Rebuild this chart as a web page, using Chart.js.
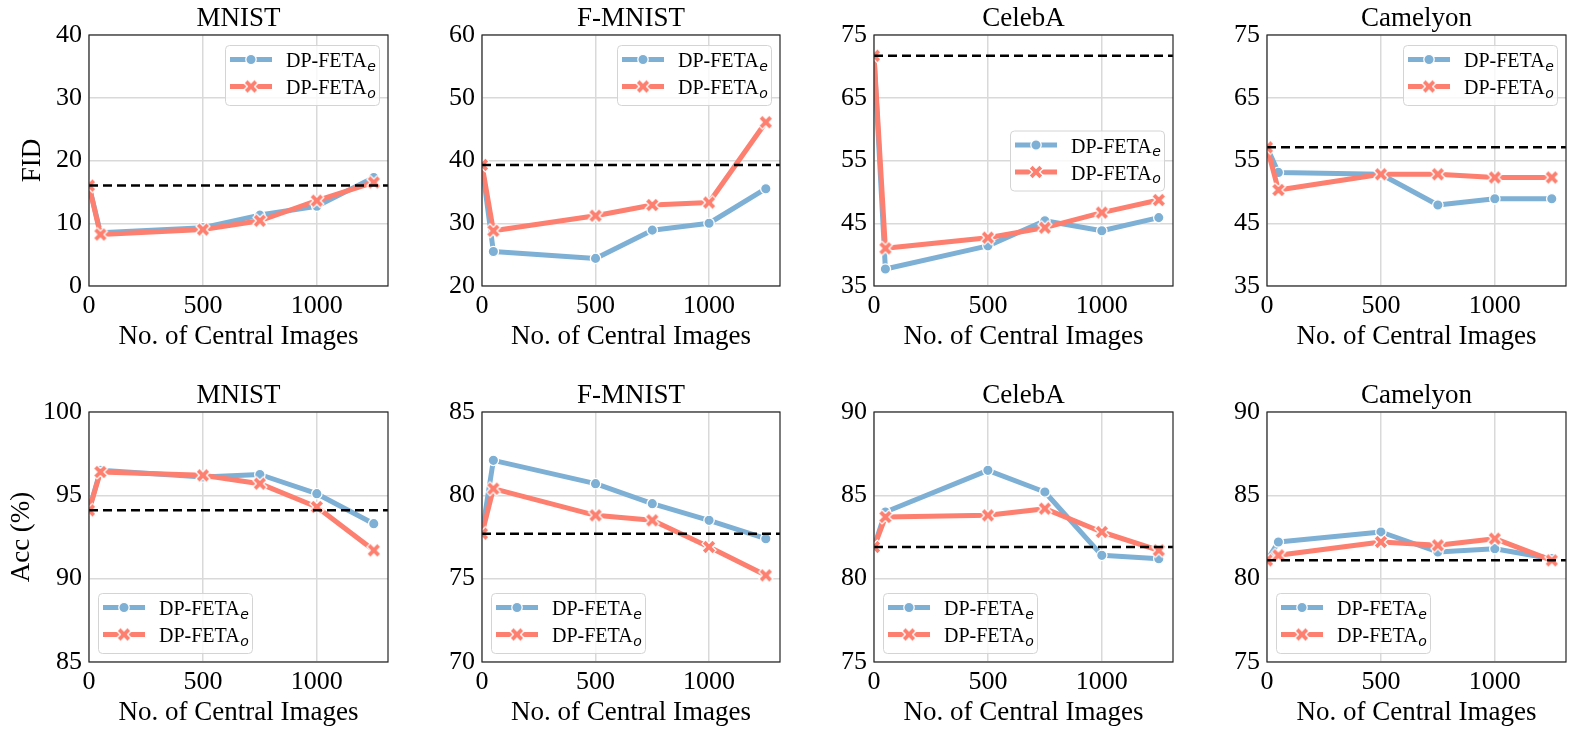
<!DOCTYPE html>
<html>
<head>
<meta charset="utf-8">
<title>DP-FETA: FID and accuracy vs. number of central images</title>
<script src="https://cdn.jsdelivr.net/npm/chart.js@4.4.0/dist/chart.umd.min.js"></script>
<style>
  html, body { margin: 0; padding: 0; background: #fff; }
  body { width: 1578px; height: 735px; position: relative; overflow: hidden; }
  canvas { position: absolute; }
</style>
</head>
<body>
<script>
// x values shared by every panel (number of central images)
const centralImages = [0, 50, 500, 750, 1000, 1250];
const xTicks = [0, 500, 1000];
const xMax = 1312.5;

const datasetNames = ['MNIST', 'F-MNIST', 'CelebA', 'Camelyon'];
const seriesLabels = ['DP-FETA', 'DP-FETA'];
const seriesSubs = ['e', 'o'];

// FID (top row)
const fidMnistE = [16.0, 8.5, 9.3, 11.3, 12.7, 17.3];
const fidMnistO = [16.0, 8.2, 9.0, 10.4, 13.6, 16.5];
const fidFmnistE = [39.3, 25.5, 24.4, 28.9, 30.0, 35.5];
const fidFmnistO = [39.3, 28.8, 31.2, 32.9, 33.3, 46.1];
const fidCelebaE = [71.7, 37.7, 41.4, 45.4, 43.8, 45.9];
const fidCelebaO = [71.7, 41.0, 42.7, 44.3, 46.7, 48.7];
const fidCamelyonE = [57.1, 53.1, 52.8, 47.9, 48.9, 48.9];
const fidCamelyonO = [57.1, 50.3, 52.8, 52.8, 52.3, 52.3];
const fidBaseline = [16.0, 39.3, 71.7, 57.1];
const fidTicks = [[0, 10, 20, 30, 40], [20, 30, 40, 50, 60], [35, 45, 55, 65, 75], [35, 45, 55, 65, 75]];

// Accuracy (bottom row)
const accMnistE = [94.1, 96.5, 96.1, 96.25, 95.1, 93.3];
const accMnistO = [94.1, 96.4, 96.2, 95.7, 94.3, 91.7];
const accFmnistE = [77.7, 82.1, 80.7, 79.5, 78.5, 77.4];
const accFmnistO = [77.7, 80.4, 78.8, 78.5, 76.9, 75.2];
const accCelebaE = [81.9, 84.0, 86.5, 85.2, 81.4, 81.2];
const accCelebaO = [81.9, 83.7, 83.8, 84.2, 82.8, 81.7];
const accCamelyonE = [81.1, 82.2, 82.8, 81.6, 81.8, 81.2];
const accCamelyonO = [81.1, 81.4, 82.2, 82.0, 82.4, 81.1];
const accBaseline = [94.1, 77.7, 81.9, 81.1];
const accTicks = [[85, 90, 95, 100], [70, 75, 80, 85], [75, 80, 85, 90], [75, 80, 85, 90]];

const BLUE = '#7eb0d5';
const SALMON = '#fd7f6f';
const seriesColors = [BLUE, SALMON];

// plot-area geometry
const colLeft = [89, 482, 874, 1267];
const colWidth = [302, 301, 302, 302];
const rowTop = [35, 412];
const rowHeight = [251, 250];
const AXIS_W = 88, AXIS_H = 64, PAD_TOP = 35, PAD_RIGHT = 8;

// thick "X" marker with a white edge, like matplotlib's 'X'
function makeXMarker(color) {
    const c = document.createElement('canvas');
    c.width = 18; c.height = 18;
    const g = c.getContext('2d');
    const arms = (len, width, col) => {
        g.strokeStyle = col;
        g.lineWidth = width;
        g.lineCap = 'butt';
        g.beginPath();
        g.moveTo(9 - len, 9 - len); g.lineTo(9 + len, 9 + len);
        g.moveTo(9 - len, 9 + len); g.lineTo(9 + len, 9 - len);
        g.stroke();
    };
    arms(5.6, 6.4, '#fff');
    arms(4.8, 3.8, color);
    return c;
}
const xMarker = makeXMarker(SALMON);

function drawLegend(ctx, area, loc) {
    const w = 154, h = 60;
    const x = loc === 'lower left' ? area.left + 9 : area.right - 9 - w;
    let y;
    if (loc === 'upper right') y = area.top + 10;
    else if (loc === 'center right') y = (area.top + area.bottom - h) / 2;
    else y = area.bottom - 9 - h;

    ctx.save();
    ctx.beginPath();
    ctx.roundRect(x + 0.5, y + 0.5, w, h, 4);
    ctx.fillStyle = 'rgba(255,255,255,0.8)';
    ctx.fill();
    ctx.strokeStyle = '#d4d4d4';
    ctx.lineWidth = 1;
    ctx.stroke();

    seriesLabels.forEach((label, i) => {
        const cy = y + 14.5 + i * 27;
        ctx.strokeStyle = seriesColors[i];
        ctx.lineWidth = 5;
        ctx.lineCap = 'butt';
        ctx.beginPath();
        ctx.moveTo(x + 5, cy);
        ctx.lineTo(x + 47, cy);
        ctx.stroke();
        if (i === 0) {
            ctx.beginPath();
            ctx.arc(x + 26, cy, 5.2, 0, Math.PI * 2);
            ctx.fillStyle = BLUE;
            ctx.fill();
            ctx.strokeStyle = '#fff';
            ctx.lineWidth = 1.3;
            ctx.stroke();
        } else {
            ctx.drawImage(xMarker, x + 26 - 9, cy - 9);
        }
        ctx.fillStyle = '#000';
        ctx.textBaseline = 'alphabetic';
        ctx.textAlign = 'left';
        ctx.font = '20px "Liberation Serif"';
        ctx.fillText(label, x + 61, cy + 7.5);
        const tw = ctx.measureText(label).width;
        ctx.font = 'italic 14px "DejaVu Sans"';
        ctx.fillText(seriesSubs[i], x + 61 + tw + 0.5, cy + 11);
    });
    ctx.restore();
}

// frame, panel title and legend
const panelDeco = {
    id: 'panelDeco',
    afterDatasetsDraw(chart) {
        const { ctx, chartArea: a } = chart;
        ctx.save();
        ctx.strokeStyle = '#262626';
        ctx.lineWidth = 1.2;
        ctx.strokeRect(a.left, a.top, a.right - a.left, a.bottom - a.top);
        ctx.restore();
    },
    afterDraw(chart, args, opts) {
        const { ctx, chartArea: a } = chart;
        ctx.save();
        ctx.fillStyle = '#000';
        ctx.font = '27px "Liberation Serif"';
        ctx.textAlign = 'center';
        ctx.textBaseline = 'alphabetic';
        ctx.fillText(opts.title, (a.left + a.right) / 2, a.top - 9);
        ctx.restore();
        drawLegend(ctx, a, opts.legendLoc);
    }
};

function makePanel(row, col, seriesE, seriesO, baseline, ticks, yTitle, titlePad, legendLoc) {
    const canvas = document.createElement('canvas');
    const w = colWidth[col] + AXIS_W + PAD_RIGHT;
    const h = rowHeight[row] + PAD_TOP + AXIS_H;
    canvas.width = w;
    canvas.height = h;
    canvas.style.left = (colLeft[col] - AXIS_W) + 'px';
    canvas.style.top = (rowTop[row] - PAD_TOP) + 'px';
    document.body.appendChild(canvas);

    const toPoints = arr => centralImages.map((x, i) => ({ x: x, y: arr[i] }));
    const tickFont = { family: '"Liberation Serif"', size: 26 };

    return new Chart(canvas, {
        type: 'line',
        data: {
            datasets: [
                {
                    label: 'baseline',
                    data: [{ x: 0, y: baseline }, { x: xMax, y: baseline }],
                    borderColor: '#000',
                    borderWidth: 2.5,
                    borderDash: [9, 5],
                    pointRadius: 0,
                    clip: 0,
                    order: 0
                },
                {
                    label: 'DP-FETA_o',
                    data: toPoints(seriesO),
                    borderColor: SALMON,
                    backgroundColor: SALMON,
                    borderWidth: 5,
                    borderJoinStyle: 'round',
                    borderCapStyle: 'round',
                    pointStyle: xMarker,
                    pointRadius: 6,
                    clip: 0,
                    order: 1
                },
                {
                    label: 'DP-FETA_e',
                    data: toPoints(seriesE),
                    borderColor: BLUE,
                    backgroundColor: BLUE,
                    borderWidth: 5,
                    borderJoinStyle: 'round',
                    borderCapStyle: 'round',
                    pointStyle: 'circle',
                    pointRadius: 5.2,
                    pointBorderColor: '#fff',
                    pointBorderWidth: 1.3,
                    clip: 0,
                    order: 2
                }
            ]
        },
        options: {
            responsive: false,
            animation: false,
            events: [],
            layout: { padding: { top: PAD_TOP, right: PAD_RIGHT, left: 0, bottom: 0 } },
            plugins: {
                legend: { display: false },
                tooltip: { enabled: false },
                panelDeco: { title: datasetNames[col], legendLoc: legendLoc }
            },
            scales: {
                x: {
                    type: 'linear',
                    min: 0,
                    max: xMax,
                    afterBuildTicks: s => { s.ticks = xTicks.map(v => ({ value: v })); },
                    afterFit: s => { s.height = AXIS_H; },
                    grid: { color: '#d9d9d9', lineWidth: 1.5, drawTicks: false },
                    border: { display: false },
                    ticks: { font: tickFont, color: '#000', padding: 5, maxRotation: 0, callback: v => String(v) },
                    title: {
                        display: true,
                        text: 'No. of Central Images',
                        color: '#000',
                        font: { family: '"Liberation Serif"', size: 27, lineHeight: 1 },
                        padding: { top: 0, bottom: 0 }
                    }
                },
                y: {
                    type: 'linear',
                    min: ticks[0],
                    max: ticks[ticks.length - 1],
                    afterBuildTicks: s => { s.ticks = ticks.map(v => ({ value: v })); },
                    afterFit: s => { s.width = AXIS_W; },
                    grid: { color: '#d9d9d9', lineWidth: 1.5, drawTicks: false },
                    border: { display: false },
                    ticks: { font: tickFont, color: '#000', padding: 7, callback: v => String(v) },
                    title: {
                        display: !!yTitle,
                        text: yTitle || '',
                        color: '#000',
                        font: { family: '"Liberation Serif"', size: 27, lineHeight: 1 },
                        padding: { top: titlePad, bottom: 0 }
                    }
                }
            }
        },
        plugins: [panelDeco]
    });
}

const fidE = [fidMnistE, fidFmnistE, fidCelebaE, fidCamelyonE];
const fidO = [fidMnistO, fidFmnistO, fidCelebaO, fidCamelyonO];
const accE = [accMnistE, accFmnistE, accCelebaE, accCamelyonE];
const accO = [accMnistO, accFmnistO, accCelebaO, accCamelyonO];
const fidLegendLoc = ['upper right', 'upper right', 'center right', 'upper right'];

for (let c = 0; c < 4; c++) {
    makePanel(0, c, fidE[c], fidO[c], fidBaseline[c], fidTicks[c],
        c === 0 ? 'FID' : null, 18.5, fidLegendLoc[c]);
    makePanel(1, c, accE[c], accO[c], accBaseline[c], accTicks[c],
        c === 0 ? 'Acc (%)' : null, 7.5, 'lower left');
}
</script>
</body>
</html>
